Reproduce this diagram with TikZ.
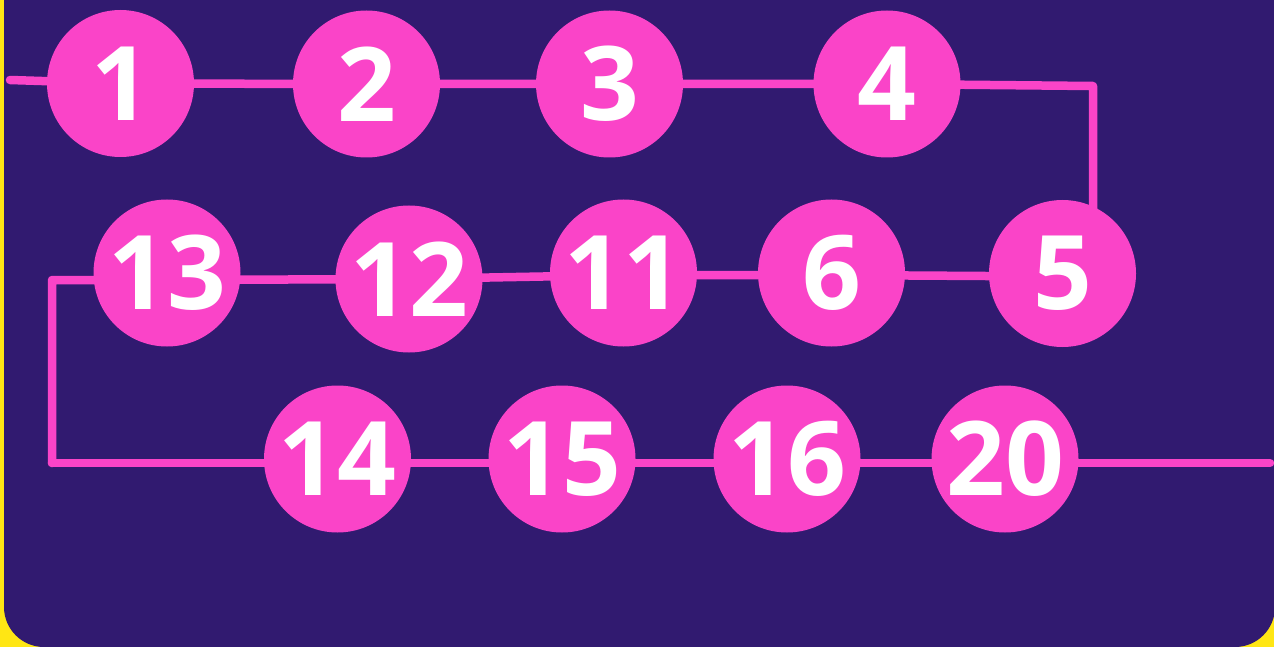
\documentclass[tikz,border=0pt]{standalone}
\usepackage{fontspec}
\setmainfont{Open Sans}
\usetikzlibrary{backgrounds}
\definecolor{colorbg}{RGB}{255,230,20}
\definecolor{colorpanel}{RGB}{49,26,112}
\definecolor{colorball}{RGB}{250,68,200}

\begin{document}
\begin{tikzpicture}[x=1pt,y=-1pt,
  ball/.style={circle,fill=colorball,minimum size=147pt,inner sep=0pt,outer sep=0pt,text=white,font=\fontsize{103}{103}\selectfont\bfseries},
  track/.style={draw=colorball,line width=8.5pt,line cap=round,line join=round}]

\useasboundingbox (0,0) rectangle (1274,647);

\node[ball] (n1)  at (120.5,83.5) {1};
\node[ball] (n2)  at (366.5,84) {2};
\node[ball] (n3)  at (609.5,84) {3};
\node[ball] (n4)  at (887,84) {4};

\node[ball] (n13) at (167,273) {13};
\node[ball] (n12) at (409,279) {12};
\node[ball] (n11) at (623.5,273) {11};
\node[ball] (n6)  at (831.5,273) {6};
\node[ball] (n5)  at (1062.5,273.5) {5};

\node[ball] (n14) at (337.5,459) {14};
\node[ball] (n15) at (562,459) {15};
\node[ball] (n16) at (787,459) {16};
\node[ball] (n20) at (1005,459) {20};

\coordinate (start)  at (10,80);
\coordinate (c4)     at (1093,86);
\coordinate (c13)    at (52,280);
\coordinate (c14)    at (52,463);
\coordinate (finish) at (1270,463);

\begin{scope}[on background layer]
\fill[colorbg] (0,0) rectangle (1274,647);
\fill[colorpanel,rounded corners=40pt] (4,-80) -- (4,647) -- (1275,647) -- (1275,-80) -- cycle;

% tracks run under the balls
\draw[track] (start) -- (n1.center) -- (n2.center) -- (n3.center) -- (n4.center) -- (c4) -- (c4 |- n5);
\draw[track] ([yshift=-3pt]n5.center) -- ([yshift=-2pt]n6.center) -- ([yshift=-2pt]n11.center)
  -- (n12.center) -- ([yshift=-7pt]n13.center) -- (c13) -- (c14);
\draw[track] (c14) -- ([yshift=-4pt]n14.center) -- ([yshift=-4pt]n15.center)
  -- ([yshift=-4pt]n16.center) -- ([yshift=-4pt]n20.center) -- (finish);
\end{scope}

\end{tikzpicture}
\end{document}
